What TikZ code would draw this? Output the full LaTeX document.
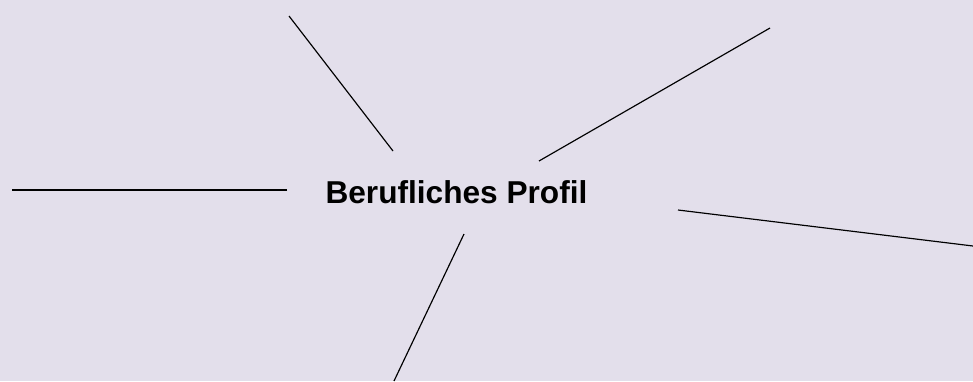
\documentclass[tikz,border=0pt]{standalone}
\usepackage{fontspec}
\setmainfont{Liberation Sans}
\usepackage{xcolor}
\usepackage{tikz}
\usetikzlibrary{positioning}
\definecolor{bgpaper}{RGB}{227,223,235}

\begin{document}
\begin{tikzpicture}[
    x=0.03cm,y=-0.03cm,
    spoke/.style={draw=black,line width=1pt},
    topic/.style={font=\fontsize{27}{32}\selectfont\bfseries,inner sep=0pt}
]
\fill[bgpaper] (0,0) rectangle (973,381);
\useasboundingbox (0,0) rectangle (973,381);

\node[topic,anchor=base] (profil) at (456.5,203) {Berufliches Profil};

% inner and outer ends of the spokes
\coordinate (in1) at (393,151);  \coordinate (out1) at (289,16);
\coordinate (in2) at (539,161);  \coordinate (out2) at (770,28);
\coordinate (in3) at (287,190);  \coordinate (out3) at (12,190);
\coordinate (in4) at (678,210);  \coordinate (out4) at (973,246);
\coordinate (in5) at (464,234);  \coordinate (out5) at (394,381);

\foreach \i in {1,...,5} {
  \draw[spoke] (in\i) -- (out\i);
}
\end{tikzpicture}
\end{document}
